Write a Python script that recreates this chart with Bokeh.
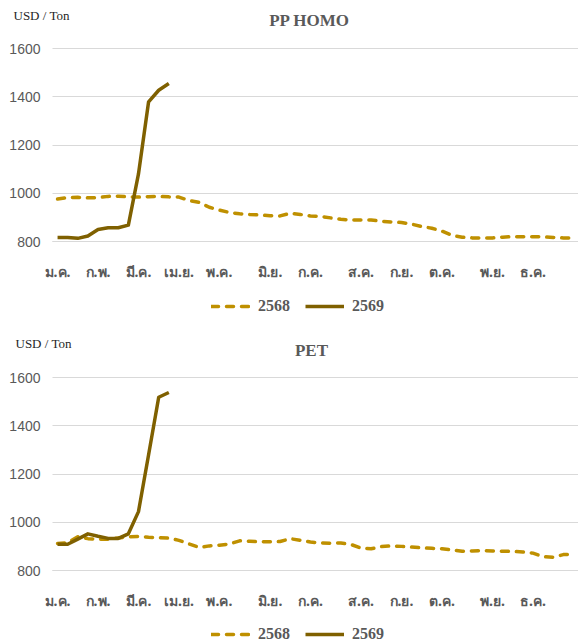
from bokeh.plotting import figure
from bokeh.layouts import column
from bokeh.models import FixedTicker, Label, Legend, LegendItem, Range1d, Grid
from bokeh.embed import file_html
from bokeh.resources import INLINE

# ---------------- data ----------------
months = ["ม.ค.", "ก.พ.", "มี.ค.", "เม.ย.", "พ.ค.", "มิ.ย.", "ก.ค.", "ส.ค.", "ก.ย.", "ต.ค.", "พ.ย.", "ธ.ค."]
month_start_week = [0, 4, 8, 12, 16, 21, 25, 30, 34, 38, 43, 47]
weeks = list(range(52))
series_names = ["2568", "2569"]

pp_2568 = [976, 982, 983, 981, 982, 987, 988, 985, 984, 986,
           987, 985, 984, 970, 962, 942, 930, 920, 915, 912,
           910, 907, 906, 917, 912, 906, 904, 898, 892, 889,
           889, 889, 884, 881, 879, 872, 862, 855, 843, 825,
           818, 815, 815, 815, 818, 820, 820, 820, 819, 817,
           815, 815]
pp_2569 = [817, 817, 813, 823, 850, 857, 857, 868, 1080, 1379, 1427, 1455]

pet_2568 = [912, 915, 940, 932, 930, 930, 935, 940, 941, 938,
            936, 934, 925, 910, 896, 902, 905, 910, 923, 921,
            919, 919, 920, 932, 925, 918, 914, 913, 914, 908,
            893, 890, 899, 902, 900, 897, 894, 892, 890, 885,
            880, 881, 882, 881, 880, 879, 877, 872, 857, 855,
            866, 868]
pet_2569 = [909, 909, 930, 952, 942, 933, 933, 952, 1044, 1280, 1518, 1538]

unit_label = "USD / Ton"
y_ticks = [800, 1000, 1200, 1400, 1600]

# ---------------- styling / geometry (pixels) ----------------
C68 = "#BF9000"
C69 = "#7F6000"
GRID = "#D9D9D9"
TXT = "#595959"

FIG_W = 578
PLOT_LEFT = 52          # px from figure left to plot area
PLOT_TOP = 48           # px from figure top to the 1600 line
PLOT_H = 193            # px between 1600 and 800
X0, X1 = -0.5, 51.5
Y0, Y1 = 800, 1600
PX_X = (FIG_W - PLOT_LEFT) / (X1 - X0)
PX_Y = PLOT_H / (Y1 - Y0)


def make_chart(title, v68, v69, fig_h, title_xy, unit_xy, legend_xy):
    below = fig_h - PLOT_TOP - PLOT_H
    xr = Range1d(X0 - PLOT_LEFT / PX_X, X1)
    yr = Range1d(Y0 - below / PX_Y, Y1 + PLOT_TOP / PX_Y)

    def dx(px):   # figure px -> data x
        return xr.start + px / PX_X

    def dy(py):   # figure px from top -> data y
        return yr.end - py / PX_Y

    p = figure(frame_width=FIG_W, frame_height=fig_h, x_range=xr, y_range=yr,
               output_backend="svg", toolbar_location=None,
               min_border=0, min_border_left=0, min_border_right=0,
               min_border_top=0, min_border_bottom=0)
    p.outline_line_color = None

    r68 = p.line(weeks[:len(v68)], v68, line_color=C68, line_width=3.5,
                 line_dash="7 8", line_cap="round", line_join="round")
    r69 = p.line(weeks[:len(v69)], v69, line_color=C69, line_width=3.5,
                 line_join="round")

    p.xgrid.visible = False
    p.ygrid.grid_line_color = GRID
    p.ygrid.ticker = FixedTicker(ticks=y_ticks)
    p.ygrid.cross_bounds = (X0, X1)

    p.yaxis.fixed_location = X0
    p.yaxis.ticker = FixedTicker(ticks=y_ticks)
    p.yaxis.axis_line_color = None
    p.yaxis.major_tick_line_color = None
    p.yaxis.minor_tick_line_color = None
    p.yaxis.major_tick_out = 0
    p.yaxis.major_tick_in = 0
    p.yaxis.major_label_standoff = 12
    p.yaxis.major_label_text_font = "Liberation Sans"
    p.yaxis.major_label_text_font_size = "14px"
    p.yaxis.major_label_text_color = TXT

    p.xaxis.fixed_location = Y0
    p.xaxis.bounds = (X0, X1)
    p.xaxis.ticker = FixedTicker(ticks=month_start_week)
    p.xaxis.major_label_overrides = {w: m for w, m in zip(month_start_week, months)}
    p.xaxis.axis_line_color = GRID
    p.xaxis.axis_line_width = 1
    p.xaxis.major_tick_line_color = None
    p.xaxis.minor_tick_line_color = None
    p.xaxis.major_tick_out = 0
    p.xaxis.major_tick_in = 0
    p.xaxis.major_label_standoff = 20
    p.xaxis.major_label_text_font = "Noto Sans"
    p.xaxis.major_label_text_font_style = "bold"
    p.xaxis.major_label_text_font_size = "14px"
    p.xaxis.major_label_text_color = TXT

    p.add_layout(Label(x=dx(title_xy[0]), y=dy(title_xy[1]), text=title,
                       text_align="center", text_baseline="middle",
                       text_font="Liberation Serif", text_font_style="bold",
                       text_font_size="17px", text_color=TXT))
    p.add_layout(Label(x=dx(unit_xy[0]), y=dy(unit_xy[1]), text=unit_label,
                       text_align="left", text_baseline="middle",
                       text_font="Liberation Serif",
                       text_font_size="13px", text_color="#262626"))

    legend = Legend(items=[LegendItem(label=series_names[0], renderers=[r68]),
                           LegendItem(label=series_names[1], renderers=[r69])],
                    orientation="horizontal", location=legend_xy,
                    glyph_width=39, glyph_height=18, label_standoff=8, spacing=15,
                    label_height=18,
                    label_text_font="Liberation Serif", label_text_font_style="bold",
                    label_text_font_size="16px", label_text_color=TXT,
                    border_line_color=None, background_fill_alpha=0,
                    padding=0, margin=0)
    p.add_layout(legend, "center")
    return p


p1 = make_chart("PP HOMO", pp_2568, pp_2569, 329, (309, 20), (13, 14.5), (211, 14))
p2 = make_chart("PET", pet_2568, pet_2569, 315, (311, 21), (15, 14), (211, 1))

layout = column(p1, p2, spacing=0)
open("out.html", "w").write(file_html(layout, INLINE))
